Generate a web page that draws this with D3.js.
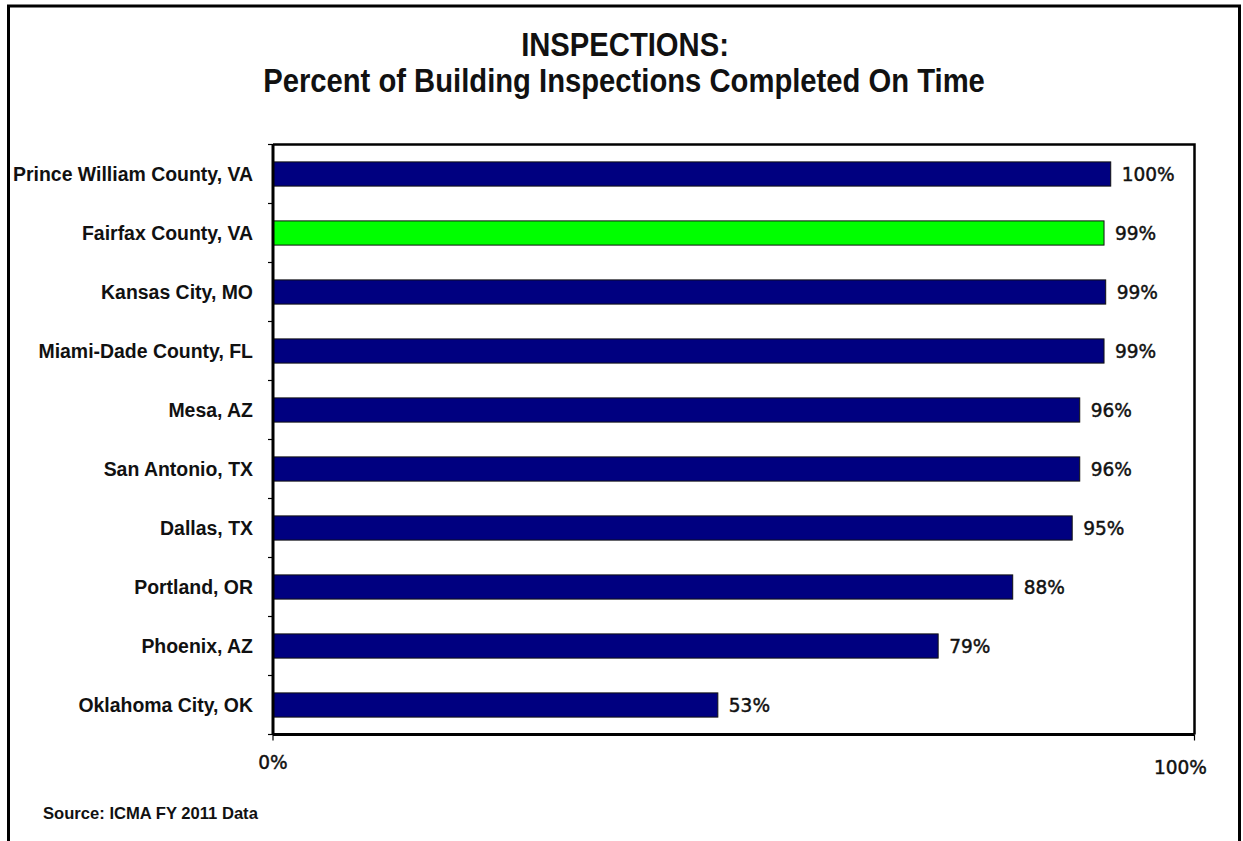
<!DOCTYPE html>
<html>
<head>
<meta charset="utf-8">
<script src="https://cdn.jsdelivr.net/npm/d3@7"></script>
<style>
  html, body { margin: 0; padding: 0; background: #fff; }
  svg { display: block; }
</style>
</head>
<body>
<svg id="chart" width="1243" height="841"></svg>
<script>
const categories = [
  "Prince William County, VA",
  "Fairfax County, VA",
  "Kansas City, MO",
  "Miami-Dade County, FL",
  "Mesa, AZ",
  "San Antonio, TX",
  "Dallas, TX",
  "Portland, OR",
  "Phoenix, AZ",
  "Oklahoma City, OK"
];
const values = [100, 99.2, 99.4, 99.2, 96.3, 96.3, 95.4, 88.3, 79.4, 53.1];
const highlight = "Fairfax County, VA";
const xTickLabels = ["0%", "100%"];
const titleLines = ["INSPECTIONS:", "Percent of Building Inspections Completed On Time"];
const sourceText = "Source: ICMA FY 2011 Data";

const svg = d3.select("#chart");
const plot = { left: 273, right: 1194.5, top: 144.5, bottom: 734.5 };

const x = d3.scaleLinear().domain([0, 110]).range([plot.left, plot.right]);
const y = d3.scaleBand().domain(categories).range([plot.top, plot.bottom])
  .paddingInner(0.59).paddingOuter(0.295);

function fitWidth(sel, target) {
  const w = sel.node().getComputedTextLength();
  const fs = parseFloat(sel.attr("font-size"));
  const nfs = fs * target / w;
  sel.attr("font-size", nfs);
  return nfs;
}

// outer frame
svg.append("rect").attr("x", 8.5).attr("y", 6).attr("width", 1231).attr("height", 860)
  .attr("fill", "none").attr("stroke", "#000").attr("stroke-width", 3);

// title (condensed by horizontal scaling)
const titleFont = "'Liberation Sans', Arial, sans-serif";
function condensedTitle(txt, cx, by, fs, targetW, sx) {
  const t = svg.append("text").attr("x", 0).attr("y", 0)
    .attr("text-anchor", "middle").attr("font-family", titleFont)
    .attr("font-weight", "bold").attr("font-size", fs).attr("fill", "#111").text(txt);
  const w = t.node().getComputedTextLength();
  const s = sx != null ? sx : targetW / w;
  t.attr("transform", `translate(${cx},${by}) scale(${s},1)`);
  return s;
}
const sx = condensedTitle(titleLines[1], 624, 92, 33.5, 722);
condensedTitle(titleLines[0], 625, 56, 33.5, null, sx);

// bars
svg.append("g").selectAll("rect").data(categories).join("rect")
  .attr("x", x(0))
  .attr("y", d => y(d))
  .attr("width", (d, i) => x(values[i]) - x(0))
  .attr("height", y.bandwidth())
  .attr("fill", d => d === highlight ? "#00ff00" : "#000080")
  .attr("stroke", "#111").attr("stroke-width", 1);

// plot frame (top/right)
svg.append("path")
  .attr("d", `M${plot.left},${plot.top}H${plot.right}V${plot.bottom}`)
  .attr("fill", "none").attr("stroke", "#000").attr("stroke-width", 2.5);

// y axis line + ticks at category boundaries
const boundaries = d3.range(categories.length + 1).map(i => plot.top + i * y.step());
svg.append("line").attr("x1", plot.left).attr("x2", plot.left).attr("y1", plot.top).attr("y2", plot.bottom)
  .attr("stroke", "#000").attr("stroke-width", 3);
svg.append("g").selectAll("line").data(boundaries).join("line")
  .attr("x1", plot.left - 5).attr("x2", plot.left).attr("y1", d => d).attr("y2", d => d)
  .attr("stroke", "#000").attr("stroke-width", 1.2);

// x axis line + ticks
svg.append("line").attr("x1", plot.left).attr("x2", plot.right).attr("y1", plot.bottom).attr("y2", plot.bottom)
  .attr("stroke", "#000").attr("stroke-width", 3);
const xt = x.domain();
svg.append("g").selectAll("line").data(xt).join("line")
  .attr("x1", d => x(d)).attr("x2", d => x(d)).attr("y1", plot.bottom).attr("y2", plot.bottom + 6)
  .attr("stroke", "#000").attr("stroke-width", 1.2);

// category labels
const cats = svg.append("g").selectAll("text").data(categories).join("text")
  .attr("x", 253)
  .attr("y", d => y(d) + y.bandwidth() / 2)
  .attr("dy", "0.36em")
  .attr("text-anchor", "end")
  .attr("font-family", "'Liberation Sans', Arial, sans-serif")
  .attr("font-weight", "bold")
  .attr("font-size", 17)
  .attr("fill", "#111")
  .text(d => d);
{
  const w = cats.nodes()[0].getComputedTextLength();
  cats.attr("font-size", 17 * 240 / w);
}

// data labels
const labFont = "'DejaVu Sans', Verdana, sans-serif";
const fmt = v => Math.round(v) + "%";
const labs = svg.append("g").selectAll("text").data(categories).join("text")
  .attr("x", (d, i) => x(values[i]) + 11)
  .attr("y", d => y(d) + y.bandwidth() / 2)
  .attr("dy", "0.37em")
  .attr("font-family", labFont)
  .attr("font-size", 18)
  .attr("fill", "#111").attr("stroke", "#111").attr("stroke-width", 0.45)
  .text((d, i) => fmt(values[i]));
let labFs = 18;
{
  const w = labs.nodes()[0].getComputedTextLength();
  labFs = 18 * 53 / w;
  labs.attr("font-size", labFs);
}

// x tick labels
svg.append("text").attr("x", x(xt[0])).attr("y", 762).attr("dy", "0.37em")
  .attr("text-anchor", "middle").attr("font-family", labFont)
  .attr("font-size", labFs).attr("fill", "#111").attr("stroke", "#111").attr("stroke-width", 0.45)
  .text(xTickLabels[0]);
svg.append("text").attr("x", x(xt[1]) - 14).attr("y", 767).attr("dy", "0.37em")
  .attr("text-anchor", "middle").attr("font-family", labFont)
  .attr("font-size", labFs).attr("fill", "#111").attr("stroke", "#111").attr("stroke-width", 0.45)
  .text(xTickLabels[1]);

// source
const src = svg.append("text").attr("x", 43).attr("y", 813).attr("dy", "0.36em")
  .attr("font-family", "'Liberation Sans', Arial, sans-serif")
  .attr("font-weight", "bold").attr("font-size", 14).attr("fill", "#111").text(sourceText);
fitWidth(src, 215);
</script>
</body>
</html>
